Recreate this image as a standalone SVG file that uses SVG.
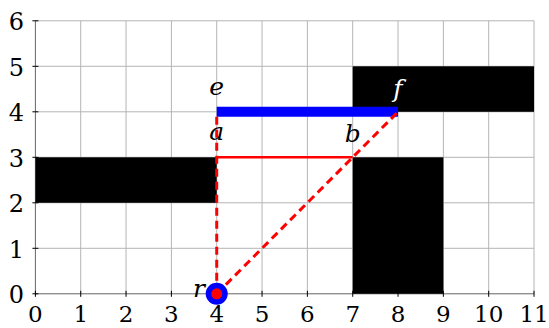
<svg xmlns="http://www.w3.org/2000/svg" width="549" height="328" viewBox="0 0 549 328">
<style>
.grid{stroke:#b4b4b4;stroke-width:1;fill:none}
.axis{stroke:#666;stroke-width:1;fill:none}
.tick{stroke:#000;stroke-width:1}
.obst{fill:#000}
.dash{stroke:#ff0000;stroke-width:3;stroke-dasharray:8,5;fill:none}
</style>
<rect width="549" height="328" fill="#fff"/>
<g id="grid">
<path class="grid" d="M80.73 20.8V293.8M126.06 20.8V293.8M171.4 20.8V293.8M216.72 20.8V293.8M262.05 20.8V293.8M307.38 20.8V293.8M352.71 20.8V293.8M398.04 20.8V293.8M443.37 20.8V293.8M488.7 20.8V293.8M534.03 20.8V293.8"/>
<path class="grid" d="M35.4 20.8H534.03M35.4 66.3H534.03M35.4 111.8H534.03M35.4 157.3H534.03M35.4 202.8H534.03M35.4 248.3H534.03"/>
<path class="axis" d="M35.4 20.8V293.8H534.03"/>
<path class="tick" d="M32.4 20.8H38.4M32.4 66.3H38.4M32.4 111.8H38.4M32.4 157.3H38.4M32.4 202.8H38.4M32.4 248.3H38.4M32.4 293.8H38.4"/>
<path class="tick" d="M35.4 290.8V296.8M80.73 290.8V296.8M126.06 290.8V296.8M171.4 290.8V296.8M216.72 290.8V296.8M262.05 290.8V296.8M307.38 290.8V296.8M352.71 290.8V296.8M398.04 290.8V296.8M443.37 290.8V296.8M488.7 290.8V296.8M534.03 290.8V296.8"/>
</g>
<g id="ylabels" font-family="DejaVu Serif, serif" font-size="24" fill="#000" text-anchor="middle">
<text x="16.5" y="303">0</text>
<text x="16.5" y="257.5">1</text>
<text x="16.5" y="212">2</text>
<text x="16.5" y="166.5">3</text>
<text x="16.5" y="121">4</text>
<text x="16.5" y="75.5">5</text>
<text x="16.5" y="30">6</text>
</g>
<g id="xlabels" font-family="DejaVu Serif, serif" font-size="23" fill="#000" text-anchor="middle">
<text x="35.4" y="322">0</text>
<text x="80.73" y="322">1</text>
<text x="126.06" y="322">2</text>
<text x="171.4" y="322">3</text>
<text x="216.72" y="322">4</text>
<text x="262.05" y="322">5</text>
<text x="307.38" y="322">6</text>
<text x="352.71" y="322">7</text>
<text x="398.04" y="322">8</text>
<text x="443.37" y="322">9</text>
<text x="488.7" y="322">10</text>
<text x="534.03" y="322">11</text>
</g>
<g id="obstacles">
<rect class="obst" x="35.4" y="157.3" width="181.32" height="45.5"/>
<rect class="obst" x="352.71" y="157.3" width="90.66" height="136.5"/>
<rect class="obst" x="352.71" y="66.3" width="181.32" height="45.5"/>
</g>
<g id="connectors">
<line x1="216.72" y1="111.8" x2="398.04" y2="111.8" stroke="#0000ff" stroke-width="10"/>
<line x1="216.72" y1="157.3" x2="352.71" y2="157.3" stroke="#ff0000" stroke-width="2.5"/>
<line class="dash" x1="216.72" y1="293.8" x2="216.72" y2="111.8"/>
<line class="dash" x1="216.72" y1="293.8" x2="398.04" y2="111.8"/>
</g>
<g font-family="DejaVu Serif, serif" font-style="italic" font-size="25" text-anchor="middle">
<g id="node-r">
<circle cx="216.72" cy="293.8" r="11" fill="#0000ff"/>
<circle cx="216.72" cy="293.8" r="5.5" fill="#ff0000"/>
<text x="199" y="297" fill="#000">r</text>
</g>
<g id="node-e"><text x="216.7" y="95" fill="#000">e</text></g>
<g id="node-a"><text x="216.7" y="140" fill="#000">a</text></g>
<g id="node-b"><text x="352.7" y="142" fill="#000">b</text></g>
<g id="node-f"><text x="398" y="97" fill="#fff">f</text></g>
</g>
</svg>
